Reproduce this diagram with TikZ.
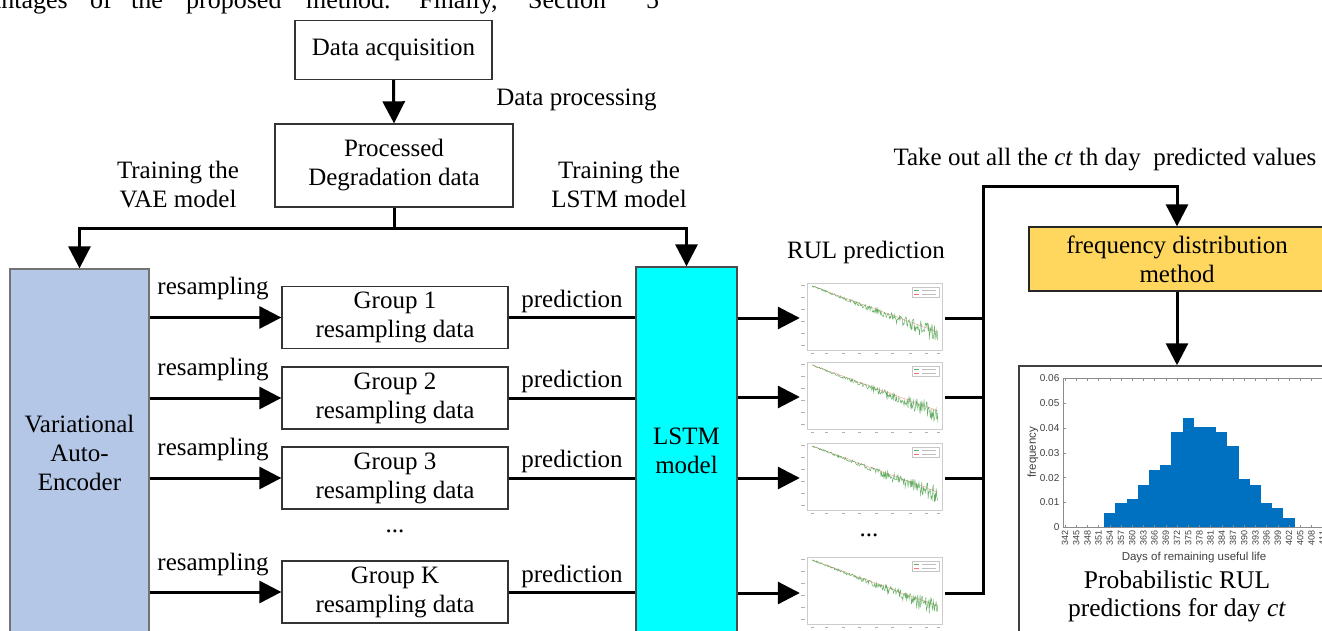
\documentclass[tikz,border=0pt]{standalone}
\usepackage{fontspec}
\setmainfont{Liberation Serif}
\newfontfamily\plotfont{Liberation Sans}
\usetikzlibrary{arrows.meta}
\definecolor{vaeblue}{RGB}{180,199,231}
\definecolor{lstmcyan}{RGB}{0,255,255}
\definecolor{fdyellow}{RGB}{255,215,95}
\definecolor{barblue}{RGB}{0,112,192}
\definecolor{thgreen}{RGB}{100,175,100}
\newcommand{\bigfont}{\fontsize{25}{29}\selectfont}
\newcommand{\rulthumb}[2]{%
  \begin{scope}[shift={(0,#1)}]
    \pgfmathsetseed{#2}
    \draw[red!55, line width=0.3pt] plot[variable=\uu, samples=40, domain=0:1]
      ({812+\uu*126}, {3+\uu*46+rand*0.5});
    \draw[thgreen, line width=0.45pt] plot[variable=\uu, samples=220, domain=0:1]
      ({812+\uu*126}, {3+\uu*49+rand*(0.8+9*\uu*\uu)});
    \draw[gray!40, line width=0.4pt] (807,0) rectangle (942,67);
    \foreach \yy in {2,14,26,38,50,62} \fill[gray!60] (801,\yy-0.5) rectangle (805,\yy+0.5);
    \foreach \xx in {812,826,843,859,876,892,910,926,938} \fill[gray!60] (\xx-1.5,69.5) rectangle (\xx+1.5,70.5);
    \draw[gray!45, line width=0.3pt, fill=white] (912,4) rectangle (939,14);
    \draw[thgreen, line width=0.3pt] (914,7) -- (919,7);
    \draw[gray!50, line width=0.5pt] (922,7) -- (936,7);
    \draw[red!55, line width=0.3pt] (914,11) -- (919,11);
    \draw[gray!50, line width=0.5pt] (922,11) -- (936,11);
  \end{scope}}
\begin{document}
\begin{tikzpicture}[x=1pt, y=-1pt,
  box/.style={draw=black!80, line width=1.3pt, inner sep=0pt, align=center, font=\bigfont},
  txt/.style={inner sep=0pt, align=center, font=\bigfont},
  arr/.style={line width=3pt, -{Triangle[length=22pt,width=22pt]}},
  ln/.style={line width=3pt},
  thumb/.style={draw=none, minimum width=145pt, minimum height=70pt, inner sep=0pt},
  ytl/.style={anchor=east, inner sep=0pt, text=black!75, font=\plotfont\fontsize{10}{12}\selectfont},
  xtl/.style={rotate=90, anchor=east, inner sep=0pt, text=black!75, font=\plotfont\fontsize{9}{11}\selectfont}]
\useasboundingbox (0,0) rectangle (1322,631);

% cut-off text line of the page above
\begin{scope}[every node/.style={anchor=base west, inner sep=0pt, font=\fontsize{26}{30}\selectfont}]
  \node[anchor=base east] (w0) at (68,9) {advantages};
  \node (w1) at (90,9) {of};
  \node (w2) at (131,9) {the};
  \node (w3) at (186,9) {proposed};
  \node (w4) at (306,9) {method.};
  \node (w5) at (419,9) {Finally,};
  \node (w6) at (528,9) {Section};
  \node (w7) at (646,9) {5};
\end{scope}

% top boxes
\node[box, minimum width=197pt, minimum height=59pt] (acq) at (393.5,50) {Data acquisition};
\node[box, minimum width=238pt, minimum height=83pt] (proc) at (394,165.5) {Processed\\Degradation data};
\draw[arr] (acq.south) -- (proc.north);
\node[txt] (dp) at (576.5,100) {Data processing};
\node[txt] (tvae) at (178,184.5) {Training the\\VAE model};
\node[txt] (tlstm) at (619,184.5) {Training the\\LSTM model};

% main models
\node[box, draw=black!55, fill=vaeblue, minimum width=139pt, minimum height=368pt] (vae) at (79.5,453) {Variational\\Auto-\\Encoder};
\node[box, draw=black!70, fill=lstmcyan, minimum width=101pt, minimum height=367pt] (lstm) at (686.5,450.5) {LSTM\\model};

\draw[ln] (proc.south) -- ++(0,21) coordinate (j);
\draw[arr] (j) -| (vae.north);
\draw[arr] (j) -| (lstm.north);

% groups
\node[box, minimum width=226pt, minimum height=62pt] (g1) at (395,317.5) {Group 1\\resampling data};
\node[box, minimum width=226pt, minimum height=62pt] (g2) at (395,398) {Group 2\\resampling data};
\node[box, minimum width=226pt, minimum height=62pt] (g3) at (395,478) {Group 3\\resampling data};
\node[box, minimum width=226pt, minimum height=62pt] (gk) at (395,592) {Group K\\resampling data};
\node[txt] (gdots) at (395,531) {...};

\foreach \g/\ly in {g1/289, g2/370, g3/450, gk/565} {
  \draw[arr] (\g.west -| vae.east) -- (\g.west);
  \node[txt] at (213,\ly) {resampling};
  \draw[ln] (\g.east) -- (\g.east -| lstm.west);
}
\foreach \ly in {301,381,461,576} \node[txt] at (572,\ly) {prediction};

% RUL prediction thumbnails
\node[txt] (rul) at (866,252) {RUL prediction};
\rulthumb{283}{11}
\rulthumb{362}{23}
\rulthumb{443}{37}
\rulthumb{557}{51}
\node[thumb] (th1) at (872.5,318) {};
\node[thumb] (th2) at (872.5,397) {};
\node[thumb] (th3) at (872.5,478) {};
\node[thumb] (th4) at (872.5,593) {};
\node[txt] (tdots) at (869,535) {...};
\foreach \t in {th1,th2,th3,th4} \draw[arr] (\t.west -| lstm.east) -- (\t.west);

% collection bus
\coordinate (bus) at (983,187);
\foreach \t in {th1,th2,th3} \draw[ln] (\t.east) -- (\t.east -| bus);
\node[txt] (take) at (1105,160) {Take out all the \textit{ct} th day \ predicted values};

\node[box, draw=black!85, fill=fdyellow, minimum width=296pt, minimum height=64pt] (freq) at (1177,259) {frequency distribution\\method};
\draw[arr] (th4.east) -- (th4.east -| bus) -- (bus) -| (freq.north);

% probabilistic chart
\node[box, draw=black!75, line width=1.5pt, minimum width=316pt, minimum height=280pt] (chart) at (1177,506) {};
\draw[arr] (freq.south) -- (chart.north);

\foreach \k/\v in {4/.0056,5/.0097,6/.0115,7/.0172,8/.0231,9/.0250,10/.0384,11/.0442,12/.0403,13/.0403,14/.0384,15/.0328,16/.0193,17/.0172,18/.0097,19/.0077,20/.0039}
  \fill[barblue] ({1065+11.2*\k-5.6},527.3) rectangle ({1065+11.2*\k+5.6},{527.3-\v*2483});
\draw[black!45, line width=0.6pt] (1063.3,378.3) rectangle (1332,527.3);
\foreach \k in {0,...,23} {
  \draw[black!45, line width=0.5pt] ({1065+11.2*\k},378.3) -- ++(0,2.5);
  \draw[black!45, line width=0.5pt] ({1065+11.2*\k},527.3) -- ++(0,-2.5);
  \pgfmathtruncatemacro\lab{342+3*\k}
  \node[xtl] at ({1065+11.2*\k},530.5) {\lab};
}
\foreach \i/\lab in {0/0,1/0.01,2/0.02,3/0.03,4/0.04,5/0.05,6/0.06} {
  \draw[black!45, line width=0.5pt] (1063.3,{527.3-24.83*\i}) -- ++(2.5,0);
  \node[ytl] at (1059.5,{527.3-24.83*\i}) {\lab};
}
\node[rotate=90, inner sep=0pt, text=black!75, font=\plotfont\fontsize{11.5}{13}\selectfont] (ylab) at (1033,452) {frequency};
\node[inner sep=0pt, text=black!75, font=\plotfont\fontsize{11.5}{13}\selectfont] (xlab) at (1194,558) {Days of remaining useful life};
\node[txt, font=\fontsize{25.5}{28}\selectfont] (prob) at (1177,596) {Probabilistic RUL\\predictions for day \textit{ct}};
\end{tikzpicture}
\end{document}
